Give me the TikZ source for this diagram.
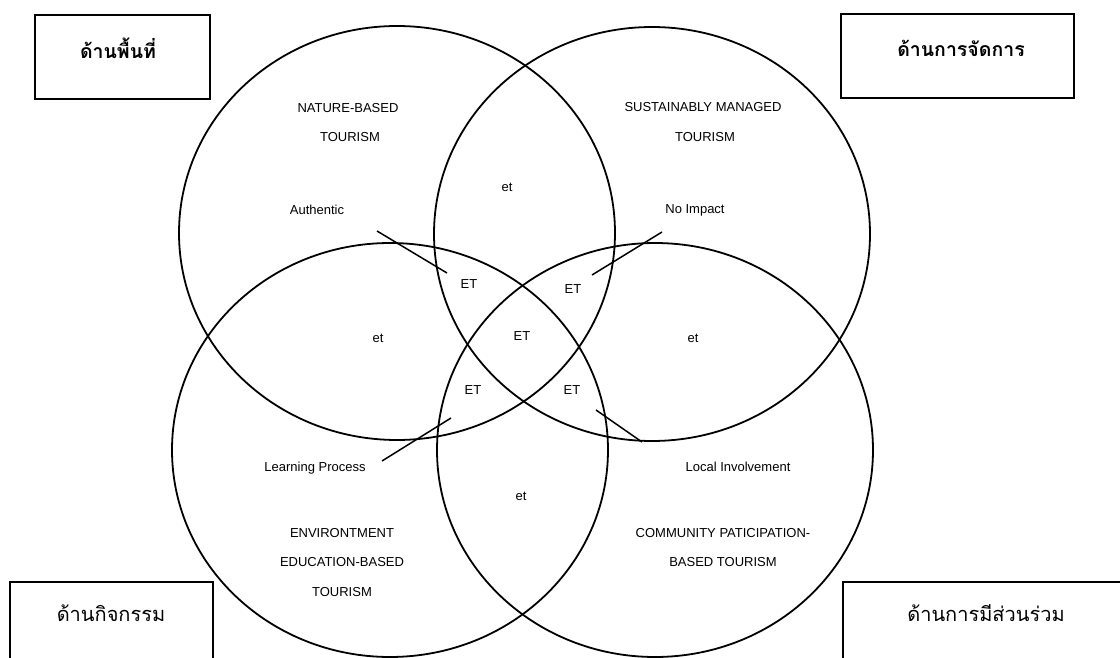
\documentclass[tikz,border=0pt]{standalone}
\usepackage{fontspec}
\setmainfont{Liberation Sans}
\newfontfamily\thaifont[Script=Thai]{Loma}
\usetikzlibrary{shapes.geometric}
\begin{document}
\begin{tikzpicture}[x=1pt,y=-1pt,
  ring/.style={draw, ellipse, line width=1.8pt, inner sep=0pt, minimum width=436pt, minimum height=414pt},
  boxframe/.style={draw, rectangle, line width=1.8pt, inner sep=0pt},
  lbl/.style={font=\fontsize{13}{15}\selectfont, inner sep=0pt},
  thaib/.style={font=\thaifont\bfseries\fontsize{19.5}{24}\selectfont, inner sep=0pt},
  thair/.style={font=\thaifont\fontsize{20}{24}\selectfont, inner sep=0pt},
  pointer/.style={line width=1.5pt}]
\useasboundingbox (0,0) rectangle (1120,658);
\clip (0,0) rectangle (1120,658);
\fill[white] (0,0) rectangle (1120,658);

% circles
\node[ring] (tl) at (397,233) {};
\node[ring] (tr) at (652,234) {};
\node[ring] (bl) at (390,450) {};
\node[ring] (br) at (655,450) {};

% boxes
\node[boxframe, minimum width=175pt, minimum height=84pt] (b1) at (122.5,57) {};
\node[boxframe, minimum width=233pt, minimum height=84pt] (b2) at (957.5,56) {};
\node[boxframe, minimum width=203pt, minimum height=110pt] (b3) at (111.5,637) {};
\node[boxframe, minimum width=300pt, minimum height=110pt] (b4) at (993,637) {};

\node[thaib] (t1) at (118,48) {ด้านพื้นที่};
\node[thaib] (t2) at (961,48) {ด้านการจัดการ};
\node[thair] (t3) at (111,613) {ด้านกิจกรรม};
\node[thair] (t4) at (986,613) {ด้านการมีส่วนร่วม};

% circle titles
\node[lbl] (n1) at (348,108) {NATURE-BASED};
\node[lbl] (n2) at (350,137) {TOURISM};
\node[lbl] (s1) at (703,107) {SUSTAINABLY MANAGED};
\node[lbl] (s2) at (705,137) {TOURISM};
\node[lbl] (e1) at (342,533) {ENVIRONTMENT};
\node[lbl] (e2) at (342,562) {EDUCATION-BASED};
\node[lbl] (e3) at (342,592) {TOURISM};
\node[lbl] (c1) at (723,533) {COMMUNITY PATICIPATION-};
\node[lbl] (c2) at (723,562) {BASED TOURISM};

% region labels
\node[lbl] (et1) at (507,187) {et};
\node[lbl] (et2) at (378,338) {et};
\node[lbl] (et3) at (693,338) {et};
\node[lbl] (et4) at (521,496) {et};
\node[lbl] (ET1) at (469,284) {ET};
\node[lbl] (ET2) at (573,289) {ET};
\node[lbl] (ET3) at (522,336) {ET};
\node[lbl] (ET4) at (473,390) {ET};
\node[lbl] (ET5) at (572,390) {ET};

% pointer labels
\node[lbl] (au) at (317,210) {Authentic};
\node[lbl] (ni) at (695,210) {No Impact};
\node[lbl] (lp) at (315,468) {Learning Process};
\node[lbl] (li) at (738,467) {Local Involvement};

\coordinate (au1) at (377,231);
\coordinate (au2) at (447,273);
\coordinate (ni1) at (662,232);
\coordinate (ni2) at (592,275);
\coordinate (lp1) at (382,461);
\coordinate (lp2) at (451,418);
\coordinate (li1) at (596,410);
\coordinate (li2) at (642,442);
\draw[pointer] (au1) -- (au2);
\draw[pointer] (ni1) -- (ni2);
\draw[pointer] (lp1) -- (lp2);
\draw[pointer] (li1) -- (li2);
\end{tikzpicture}
\end{document}
